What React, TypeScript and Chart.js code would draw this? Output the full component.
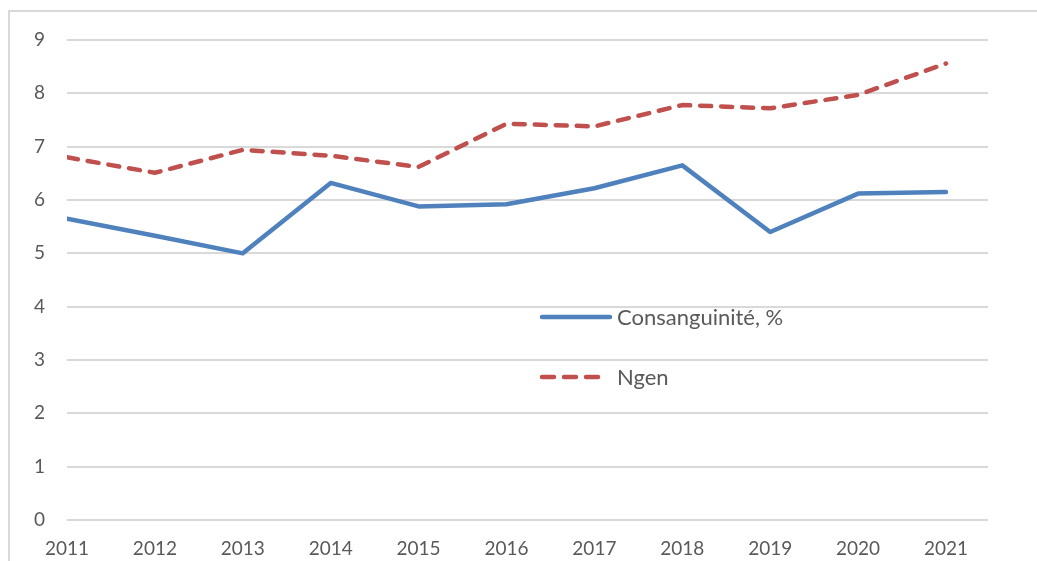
import React, { useEffect, useRef } from "react";
import { Chart, registerables } from "chart.js";

Chart.register(...registerables);

const categories = ["2011", "2012", "2013", "2014", "2015", "2016", "2017", "2018", "2019", "2020", "2021"];
const consanguinite = [5.65, 5.33, 5.0, 6.32, 5.88, 5.92, 6.22, 6.65, 5.4, 6.12, 6.15];
const ngen = [6.8, 6.51, 6.94, 6.83, 6.62, 7.43, 7.38, 7.78, 7.72, 7.97, 8.56];
const yTicks = [0, 1, 2, 3, 4, 5, 6, 7, 8, 9];

const seriesNames = ["Consanguinité, %", "Ngen"];
const BLUE = "#4F81BD";
const RED = "#C0504D";
const TEXT = "#595959";
const FONT = "Lato";

const legendPlugin = {
  id: "innerLegend",
  afterDraw(chart: any) {
    const { ctx, chartArea } = chart;
    const x0 = chartArea.left + 475;
    const items = [
      { y: chartArea.top + 277, color: BLUE, dash: [] as number[], len: 68, label: seriesNames[0] },
      { y: chartArea.top + 337, color: RED, dash: [12, 10], len: 62, label: seriesNames[1] },
    ];
    ctx.save();
    items.forEach((it) => {
      ctx.beginPath();
      ctx.strokeStyle = it.color;
      ctx.lineWidth = 4.5;
      ctx.lineCap = "round";
      ctx.setLineDash(it.dash);
      ctx.moveTo(x0, it.y);
      ctx.lineTo(x0 + it.len, it.y);
      ctx.stroke();
      ctx.setLineDash([]);
      ctx.fillStyle = TEXT;
      ctx.font = `22px ${FONT}`;
      ctx.textAlign = "left";
      ctx.textBaseline = "middle";
      ctx.fillText(it.label, x0 + 75, it.y + 1);
    });
    ctx.restore();
  },
};

export default function App() {
  const ref = useRef<HTMLCanvasElement>(null);
  useEffect(() => {
    if (!ref.current) return;
    const chart = new Chart(ref.current, {
      type: "line",
      data: {
        datasets: [
          {
            label: seriesNames[0],
            data: categories.map((c, i) => ({ x: Number(c), y: consanguinite[i] })),
            borderColor: BLUE,
            backgroundColor: BLUE,
            borderWidth: 4.5,
            pointRadius: 0,
            tension: 0,
            borderCapStyle: "round",
            borderJoinStyle: "round",
          },
          {
            label: seriesNames[1],
            data: categories.map((c, i) => ({ x: Number(c), y: ngen[i] })),
            borderColor: RED,
            backgroundColor: RED,
            borderWidth: 4.5,
            borderDash: [11, 10],
            pointRadius: 0,
            tension: 0,
            borderCapStyle: "round",
            borderJoinStyle: "round",
          },
        ],
      },
      options: {
        animation: false,
        responsive: false,
        maintainAspectRatio: false,
        layout: { padding: { left: 0, right: 49, top: 40, bottom: 0 } },
        plugins: {
          legend: { display: false },
          tooltip: { enabled: false },
          title: { display: false },
        },
        scales: {
          x: {
            type: "linear",
            min: Number(categories[0]),
            max: Number(categories[categories.length - 1]) + 0.478,
            grid: { display: false, drawTicks: false },
            border: { display: false },
            afterBuildTicks: (s: any) => {
              s.ticks = categories.map((c) => ({ value: Number(c) }));
            },
            afterFit: (s: any) => {
              s.height = 41;
            },
            ticks: {
              padding: 17,
              color: TEXT,
              font: { family: FONT, size: 19 },
              maxRotation: 0,
              autoSkip: false,
              callback: (v: any) => String(v),
            },
          },
          y: {
            min: 0,
            max: 9,
            grid: { color: "#d9d9d9", lineWidth: 2, drawTicks: false },
            border: { display: false },
            afterBuildTicks: (s: any) => {
              s.ticks = yTicks.map((v) => ({ value: v }));
            },
            afterFit: (s: any) => {
              s.width = 67;
            },
            ticks: {
              padding: 22,
              color: TEXT,
              font: { family: FONT, size: 19 },
            },
          },
        },
      },
      plugins: [legendPlugin],
    });
    return () => chart.destroy();
  }, []);

  return (
    <div style={{ position: "fixed", left: 0, top: 0, width: 1037, height: 561, overflow: "hidden", background: "#fff" }}>
      <div
        style={{
          position: "absolute",
          left: 8,
          top: 10,
          width: 1100,
          height: 620,
          border: "2px solid #d9d9d9",
          boxSizing: "border-box",
        }}
      />
      <canvas ref={ref} width={1037} height={561} style={{ position: "absolute", left: 0, top: 0, width: 1037, height: 561 }} />
    </div>
  );
}
